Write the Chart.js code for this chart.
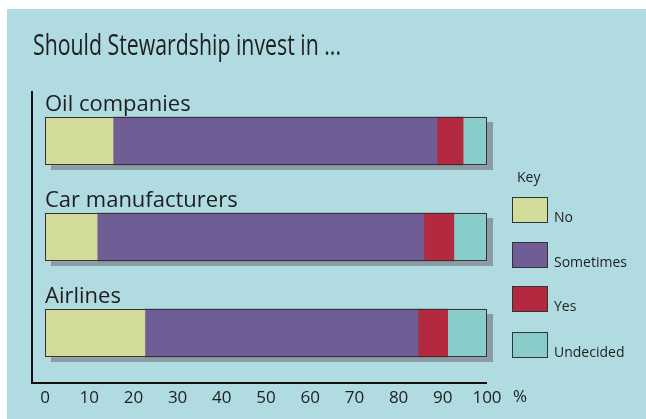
<!DOCTYPE html>
<html>
<head>
<meta charset="utf-8">
<script src="https://cdn.jsdelivr.net/npm/chart.js@4/dist/chart.umd.min.js"></script>
<style>
    html, body { margin: 0; padding: 0; background: #ffffff; }
    #wrap { width: 646px; height: 419px; position: relative; }
</style>
</head>
<body>
<div id="wrap"><canvas id="stewardChart" width="646" height="419"></canvas></div>
<script>
// Dữ liệu biểu đồ
const categories = ['Oil companies', 'Car manufacturers', 'Airlines'];
const noValues = [15.4, 11.8, 22.6];
const sometimesValues = [73.3, 73.9, 61.8];
const yesValues = [5.9, 6.8, 6.7];
const undecidedValues = [5.4, 7.5, 8.9];
const seriesNames = ['No', 'Sometimes', 'Yes', 'Undecided'];
const tickValues = [0, 10, 20, 30, 40, 50, 60, 70, 80, 90, 100];

const colors = ['#d1dc9a', '#705d95', '#b3293f', '#88cdca'];
const panelColor = '#afdbe1';
const textColor = '#1e1e1e';
const fontFamily = '"Open Sans", "Noto Sans", sans-serif';

// Plugin vẽ nền, tiêu đề, nhãn danh mục, bóng đổ, trục và chú thích
const decorPlugin = {
    id: 'decor',
    beforeDraw(chart) {
        const ctx = chart.ctx;
        ctx.save();
        ctx.fillStyle = panelColor;
        ctx.fillRect(7, 9, chart.width - 7, chart.height - 9);

        // Tiêu đề (nén ngang cho giống font condensed)
        ctx.fillStyle = textColor;
        ctx.font = '29px ' + fontFamily;
        ctx.textBaseline = 'alphabetic';
        ctx.fillText('Should Stewardship invest in ...', 33, 55, 308);
        ctx.restore();
    },
    beforeDatasetsDraw(chart) {
        const ctx = chart.ctx;
        const first = chart.getDatasetMeta(0).data;
        const last = chart.getDatasetMeta(chart.data.datasets.length - 1).data;
        ctx.save();
        ctx.fillStyle = '#8a9ba4';
        first.forEach((bar, i) => {
            const left = bar.base;
            const right = last[i].x;
            const top = bar.y - bar.height / 2;
            ctx.fillRect(left + 6, top + 5, right - left, bar.height);
        });
        ctx.restore();
    },
    afterDatasetsDraw(chart) {
        const ctx = chart.ctx;
        const first = chart.getDatasetMeta(0).data;
        const last = chart.getDatasetMeta(chart.data.datasets.length - 1).data;
        const area = chart.chartArea;
        ctx.save();

        // Viền ngoài của mỗi thanh và nhãn danh mục
        first.forEach((bar, i) => {
            const left = bar.base;
            const right = last[i].x;
            const top = bar.y - bar.height / 2;
            ctx.strokeStyle = '#333333';
            ctx.lineWidth = 1;
            ctx.strokeRect(left + 0.5, top + 0.5, right - left - 1, bar.height - 1);

            ctx.fillStyle = textColor;
            ctx.font = '22px ' + fontFamily;
            ctx.textBaseline = 'alphabetic';
            ctx.fillText(categories[i], left, top - 6);
        });

        // Trục dọc và trục ngang
        ctx.strokeStyle = '#111111';
        ctx.lineWidth = 2;
        ctx.beginPath();
        ctx.moveTo(32, 91);
        ctx.lineTo(32, area.bottom + 2);
        ctx.lineTo(area.right, area.bottom + 2);
        ctx.stroke();

        // Ký hiệu %
        ctx.fillStyle = textColor;
        ctx.font = '17px ' + fontFamily;
        ctx.textBaseline = 'middle';
        ctx.fillText('%', 513, 397);

        // Chú thích (Key)
        ctx.font = '14px ' + fontFamily;
        ctx.textBaseline = 'alphabetic';
        ctx.fillText('Key', 517, 182);
        const boxTops = [197, 242, 286, 332];
        seriesNames.forEach((name, i) => {
            ctx.fillStyle = colors[i];
            ctx.fillRect(512, boxTops[i], 36, 26);
            ctx.strokeStyle = '#333333';
            ctx.lineWidth = 1;
            ctx.strokeRect(512.5, boxTops[i] + 0.5, 35, 25);
            ctx.fillStyle = textColor;
            ctx.fillText(name, 554, boxTops[i] + 25);
        });
        ctx.restore();
    }
};

const seriesData = [noValues, sometimesValues, yesValues, undecidedValues];

new Chart(document.getElementById('stewardChart').getContext('2d'), {
    type: 'bar',
    data: {
        labels: categories,
        datasets: seriesNames.map((name, i) => ({
            label: name,
            data: seriesData[i],
            backgroundColor: colors[i],
            borderWidth: 0,
            barThickness: 48
        }))
    },
    options: {
        indexAxis: 'y',
        responsive: false,
        animation: false,
        layout: { padding: { left: 45, right: 159, top: 93, bottom: 0 } },
        plugins: {
            legend: { display: false },
            title: { display: false },
            tooltip: { enabled: false }
        },
        scales: {
            x: {
                stacked: true,
                min: 0,
                max: 100,
                afterBuildTicks(scale) {
                    scale.ticks = tickValues.map(v => ({ value: v }));
                },
                afterFit(scale) {
                    scale.height = 38;
                },
                grid: { display: false, drawTicks: false },
                border: { display: false },
                ticks: {
                    color: textColor,
                    padding: 7,
                    maxRotation: 0,
                    autoSkip: false,
                    font: { family: fontFamily, size: 17 }
                }
            },
            y: {
                stacked: true,
                display: false
            }
        }
    },
    plugins: [decorPlugin]
});
</script>
</body>
</html>
